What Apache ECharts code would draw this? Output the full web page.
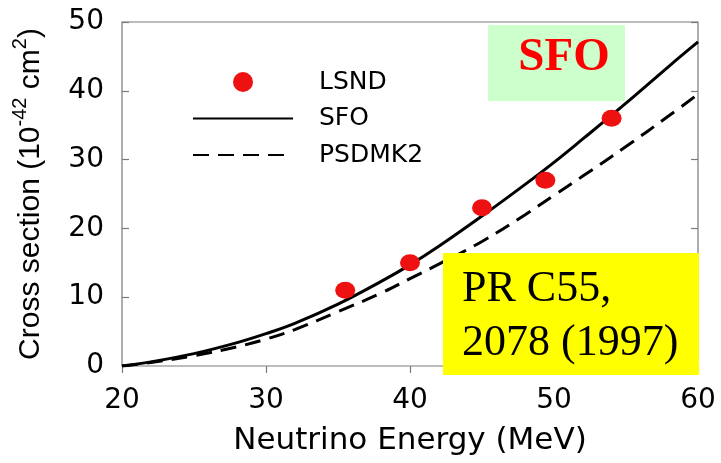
<!DOCTYPE html>
<html>
<head>
<meta charset="utf-8">
<script src="https://cdn.jsdelivr.net/npm/echarts@6/dist/echarts.min.js"></script>
<style>
html,body{margin:0;padding:0;background:#fff;}
#chart{width:721px;height:463px;}
</style>
</head>
<body>
<div id="chart"></div>
<script>
// Data
const lsndEnergy = [35.5, 40.0, 45.0, 49.4, 54.0];
const lsndValue  = [11.0, 15.0, 23.0, 27.0, 36.0];

const curveEnergy = [20, 22, 25, 28, 30, 32, 35, 38, 40, 42, 45, 48, 50, 52, 55, 58, 60];
const sfoValue    = [0, 0.6, 1.8, 3.4, 4.7, 6.2, 9.0, 12.3, 14.7, 17.4, 21.8, 26.4, 29.6, 33.0, 38.2, 43.6, 47.1];
const psdmk2Value = [0, 0.5, 1.5, 2.8, 3.9, 5.3, 7.9, 10.6, 12.7, 14.8, 18.1, 22.0, 24.8, 27.6, 31.9, 36.4, 39.5];

const xTicks = [20, 30, 40, 50, 60];
const yTicks = [0, 10, 20, 30, 40, 50];

const pairs = (xs, ys) => xs.map((x, i) => [x, ys[i]]);

const chart = echarts.init(document.getElementById('chart'));
const axisGray = '#7a7a7a';
const font = 'Liberation Sans, Arial, sans-serif';
const wideFont = 'DejaVu Sans, Liberation Sans, sans-serif';

chart.setOption({
  animation: false,
  backgroundColor: '#fff',
  grid: { left: 122, right: 23, top: 22, bottom: 97, show: true, borderColor: axisGray, borderWidth: 1.2, backgroundColor: 'transparent' },
  legend: {
    orient: 'vertical',
    left: 192,
    top: 69.5,
    padding: 0,
    itemWidth: 100,
    itemHeight: 25,
    itemGap: 11.5,
    textStyle: { fontFamily: wideFont, fontSize: 25, color: '#000', padding: [0, 0, 0, 21] },
    data: [
      { name: 'LSND' },
      { name: 'SFO', itemStyle: { opacity: 0 } },
      { name: 'PSDMK2', itemStyle: { opacity: 0 } }
    ]
  },
  xAxis: {
    type: 'value', min: xTicks[0], max: xTicks[xTicks.length - 1], interval: 10,
    axisLine: { show: false },
    axisTick: { show: true, inside: false, length: 7, lineStyle: { color: axisGray, width: 1.2 } },
    axisLabel: { fontFamily: wideFont, fontSize: 28, color: '#000', margin: 21 },
    splitLine: { show: false },
    name: 'Neutrino Energy (MeV)', nameLocation: 'middle', nameGap: 59,
    nameTextStyle: { fontFamily: wideFont, fontSize: 31, color: '#000' }
  },
  yAxis: [{
    type: 'value', min: yTicks[0], max: yTicks[yTicks.length - 1], interval: 10,
    axisLine: { show: false },
    axisTick: { show: true, inside: true, length: 7, lineStyle: { color: axisGray, width: 1.2 } },
    axisLabel: { fontFamily: wideFont, fontSize: 28, color: '#000', margin: 18 },
    splitLine: { show: false },
    name: '{a|Cross section (10}{s|-42}{a| cm}{s|2}{a|)}',
    nameLocation: 'middle', nameRotate: 90, nameGap: 76,
    nameTextStyle: {
      rich: {
        a: { fontFamily: font, fontSize: 30, color: '#000', lineHeight: 36, verticalAlign: 'bottom' },
        s: { fontFamily: font, fontSize: 20, color: '#000', lineHeight: 36, verticalAlign: 'top' }
      }
    }
  }, {
    type: 'value', position: 'right', min: yTicks[0], max: yTicks[yTicks.length - 1], interval: 10,
    axisLine: { show: false },
    axisTick: { show: true, inside: true, length: 7, lineStyle: { color: axisGray, width: 1.2 } },
    axisLabel: { show: false },
    splitLine: { show: false }
  }],
  series: [
    {
      name: 'LSND', type: 'line', data: pairs(lsndEnergy, lsndValue),
      symbol: 'circle', symbolSize: [20, 17], showSymbol: true,
      itemStyle: { color: '#ee1111' },
      lineStyle: { width: 0, opacity: 0 },
      z: 5
    },
    {
      name: 'SFO', type: 'line', data: pairs(curveEnergy, sfoValue), smooth: 0.4,
      symbol: 'none', itemStyle: { color: '#000' },
      lineStyle: { color: '#000', width: 3 }, z: 3
    },
    {
      name: 'PSDMK2', type: 'line', data: pairs(curveEnergy, psdmk2Value), smooth: 0.4,
      symbol: 'none', itemStyle: { color: '#000' },
      lineStyle: { color: '#000', width: 3, type: [16, 9] }, z: 3
    }
  ],
  graphic: [
    { type: 'rect', shape: { x: 488, y: 25, width: 137, height: 76 }, style: { fill: '#ccffcc' }, z: 10 },
    { type: 'text', x: 564, y: 58, style: { text: 'SFO', font: 'bold 47px "Liberation Serif", "Times New Roman", serif', fill: '#ff0000', align: 'center', verticalAlign: 'middle' }, z: 11 },
    { type: 'rect', shape: { x: 443, y: 253, width: 256, height: 122 }, style: { fill: '#ffff00' }, z: 10 },
    { type: 'text', x: 462, y: 289, style: { text: 'PR C55,', font: '44px "Liberation Serif", "Times New Roman", serif', fill: '#000', align: 'left', verticalAlign: 'middle' }, z: 11 },
    { type: 'text', x: 462, y: 343, style: { text: '2078 (1997)', font: '44px "Liberation Serif", "Times New Roman", serif', fill: '#000', align: 'left', verticalAlign: 'middle' }, z: 11 }
  ]
});
</script>
</body>
</html>
